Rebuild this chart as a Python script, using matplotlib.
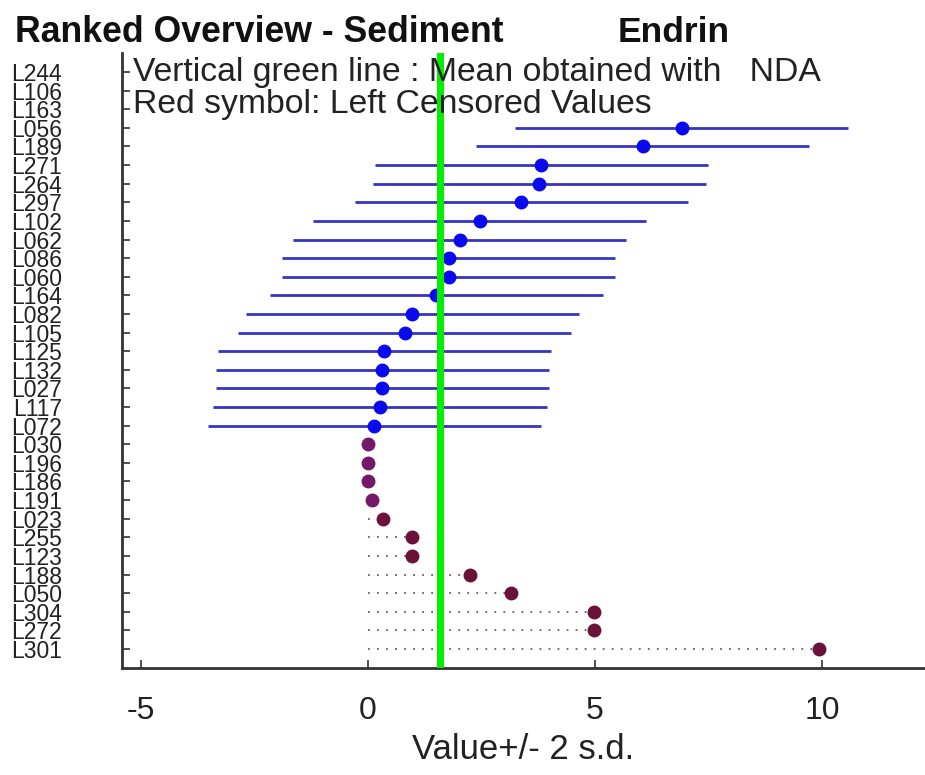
import math

import matplotlib
matplotlib.use("Agg")
import matplotlib.pyplot as plt

plt.rcParams["font.family"] = ["Liberation Sans", "DejaVu Sans"]

# ranked labs, top to bottom
labs = ["L244", "L106", "L163", "L056", "L189", "L271", "L264", "L297",
        "L102", "L062", "L086", "L060", "L164", "L082", "L105", "L125",
        "L132", "L027", "L117", "L072", "L030", "L196", "L186", "L191",
        "L023", "L255", "L123", "L188", "L050", "L304", "L272", "L301"]

# reported value per lab (None = nothing reported)
values = [None, None, None, 6.91, 6.05, 3.82, 3.78, 3.38,
          2.46, 2.02, 1.78, 1.78, 1.51, 0.98, 0.81, 0.36,
          0.32, 0.32, 0.27, 0.14, 0.0, 0.0, 0.0, 0.09,
          0.34, 0.97, 0.97, 2.25, 3.16, 4.97, 4.97, 9.94]

# labs that reported a "less than" value
censored_labs = ["L030", "L196", "L186", "L191", "L023", "L255",
                 "L123", "L188", "L050", "L304", "L272", "L301"]

two_sd = 3.67      # half width of every bar
nda_mean = 1.60    # mean obtained with NDA

fig = plt.figure(figsize=(9.25, 7.75), dpi=100)
ax = fig.add_axes([121.7 / 925, 1 - 668 / 775, 1 - 121.7 / 925, (668 - 53) / 775])

for i, (lab, v) in enumerate(zip(labs, values)):
    if v is None:
        continue
    if lab in censored_labs:
        ax.hlines(i, 0, v, colors="#7a5866", linestyles=(0, (1, 4)), lw=1.3, zorder=2)
        col = "#74186c" if v < 0.2 else "#6a1238"
        ax.plot(v, i, "o", color=col, ms=9, mec=col, zorder=3)
    else:
        ax.hlines(i, v - two_sd, v + two_sd, colors="#3434c4", lw=2, zorder=2)
        ax.plot(v, i, "o", color="#0a0aee", ms=9, zorder=3)

ax.axvline(nda_mean, color="#00ee00", lw=5, zorder=5)

ax.set_xlim(-5.42, 12.27)
ax.set_ylim(len(labs) + 0.02, -1.02)
ax.set_xticks([-5, 0, 5, 10])
ax.set_xticklabels(["-5", "0", "5", "10"], fontsize=23)
ax.set_yticks(range(len(labs)))
ax.set_yticklabels(labs, fontsize=16.5)
ax.tick_params(axis="y", direction="in", length=6, width=1.2, pad=43, colors="#333333")
ax.tick_params(axis="x", direction="in", length=6, width=1.2, pad=20, colors="#333333")
for lbl in ax.get_xticklabels() + ax.get_yticklabels():
    lbl.set_color("#222222")

for side in ["top", "right"]:
    ax.spines[side].set_visible(False)
for side in ["left", "bottom"]:
    ax.spines[side].set_color("#333333")
    ax.spines[side].set_linewidth(2)

ax.set_xlabel("Value+/- 2 s.d.", fontsize=25, color="#222222", labelpad=5)

fig.text(15 / 925, 1 - 42 / 775, "Ranked Overview - Sediment", fontsize=25.7,
         fontweight="bold", va="baseline", color="#111111")
fig.text(618 / 925, 1 - 42 / 775, "Endrin", fontsize=25.5,
         fontweight="bold", va="baseline", color="#111111")
fig.text(133 / 925, 1 - 81 / 775, "Vertical green line : Mean obtained with   NDA",
         fontsize=24.3, va="baseline", color="#222222")
fig.text(133 / 925, 1 - 113 / 775, "Red symbol: Left Censored Values",
         fontsize=24.3, va="baseline", color="#222222")

fig.savefig("out.png", dpi=100)
